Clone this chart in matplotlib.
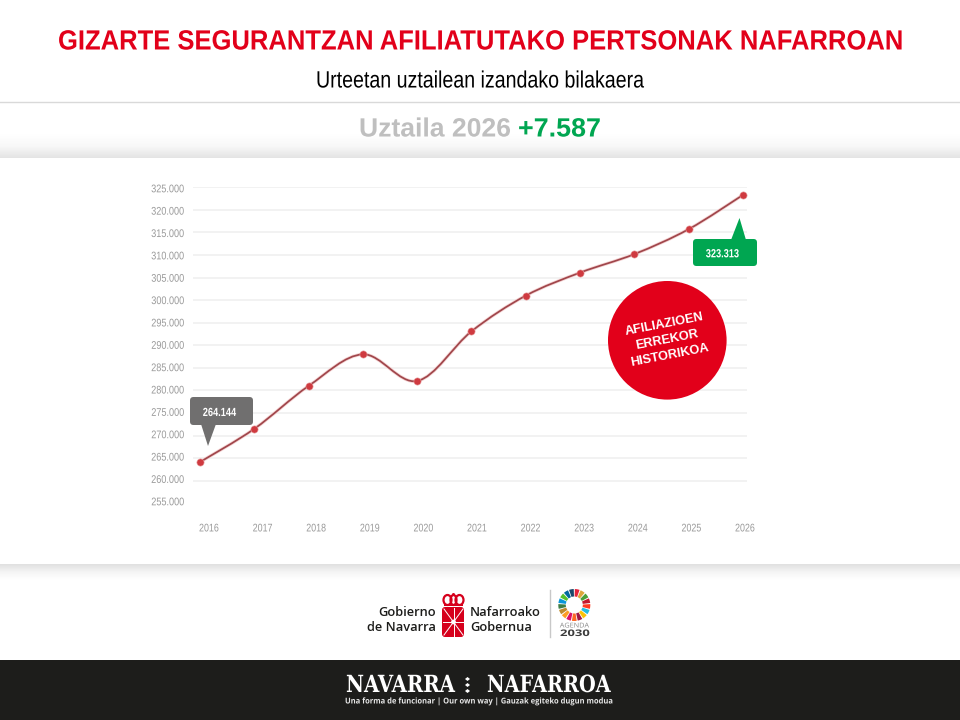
import numpy as np
import matplotlib
matplotlib.use("Agg")
import matplotlib.pyplot as plt
from matplotlib.patches import Circle, FancyBboxPatch, Polygon, PathPatch, Wedge, Ellipse, Rectangle
from matplotlib.path import Path
from matplotlib.patheffects import AbstractPathEffect
from matplotlib.text import Text
from matplotlib.transforms import ScaledTranslation, Affine2D, Bbox
from matplotlib.colors import LinearSegmentedColormap

years = [2016, 2017, 2018, 2019, 2020, 2021, 2022, 2023, 2024, 2025, 2026]
afiliados = [264144, 271500, 281000, 288000, 282100, 293100, 301000, 306100, 310200, 315726, 323313]
y_ticks = list(range(255000, 330000, 5000))
title = "GIZARTE SEGURANTZAN AFILIATUTAKO PERTSONAK NAFARROAN"
subtitle = "Urteetan uztailean izandako bilakaera"
period = "Uztaila 2026"
change = "+7.587"
badge_lines = "AFILIAZIOEN\nERREKOR\nHISTORIKOA"
sdg_colors = ["#e5243b", "#dda63a", "#4c9f38", "#c5192d", "#ff3a21", "#26bde2", "#fcc30b", "#a21942",
              "#fd6925", "#dd1367", "#fd9d24", "#bf8b2e", "#3f7e44", "#0a97d9", "#56c02b", "#00689d", "#19486a"]

W, H = 960, 720
RED = "#e2001a"
GREEN = "#00a651"
ARIAL = ["Liberation Sans"]


def thousands(v):
    return f"{v:,}".replace(",", ".")


class ScaleX(AbstractPathEffect):
    """Condense real text horizontally around a pixel anchor (no narrow font is installed)."""
    def __init__(self, sx, cx):
        super().__init__()
        self.sx, self.cx = sx, cx

    def draw_path(self, renderer, gc, tpath, affine, rgbFace=None):
        squeeze = Affine2D().translate(-self.cx, 0).scale(self.sx, 1).translate(self.cx, 0)
        renderer.draw_path(gc, tpath, affine + squeeze, rgbFace)


class NarrowText(Text):
    sx, cx = 1.0, 0.0

    def get_window_extent(self, renderer=None, dpi=None):
        b = super().get_window_extent(renderer, dpi)
        return Bbox.from_extents(self.cx + (b.x0 - self.cx) * self.sx, b.y0,
                                 self.cx + (b.x1 - self.cx) * self.sx, b.y1)


fig = plt.figure(figsize=(9.6, 7.2), dpi=100, facecolor="white")
renderer = fig.canvas.get_renderer()

# background layer in pixel coordinates
bg = fig.add_axes([0, 0, 1, 1], zorder=0)
bg.set_xlim(0, W); bg.set_ylim(H, 0); bg.axis("off")
shade_top = LinearSegmentedColormap.from_list("t", ["#ffffff", "#f8f8f8", "#e4e4e4"])
bg.imshow(np.linspace(0, 1, 64).reshape(-1, 1), extent=(0, W, 158, 134), cmap=shade_top, aspect="auto", zorder=1)
shade_bot = LinearSegmentedColormap.from_list("b", ["#e0e0e0", "#f5f5f5", "#ffffff"])
bg.imshow(np.linspace(0, 1, 64).reshape(-1, 1), extent=(0, W, 580, 564), cmap=shade_bot, aspect="auto", zorder=1)
bg.set_xlim(0, W); bg.set_ylim(H, 0)
bg.plot([0, W], [101.5, 101.5], color="#d9d9d9", lw=1, zorder=2)
bg.add_patch(Rectangle((0, 660), W, 60, fc="#1d1d1b", ec="none", zorder=2))


# chart
def px_to_fig(x0, y_top, x1, y_bot):
    return [x0 / W, 1 - y_bot / H, (x1 - x0) / W, (y_bot - y_top) / H]


ax = fig.add_axes(px_to_fig(193, 187.3, 747, 503.3), zorder=1)
ax.patch.set_alpha(0)
px_year = (743 - 200) / 10
ax.set_xlim(2016 - 7 / px_year, 2026 + 4 / px_year)
ax.set_ylim(255000, 325000)
for s in ax.spines.values():
    s.set_visible(False)
ax.set_yticks(y_ticks)
ax.set_yticklabels([thousands(v) for v in y_ticks], fontsize=8, color="#9a9a9a", family=ARIAL)
ax.set_xticks(years)
ax.set_xticklabels([str(y) for y in years], fontsize=8, color="#9a9a9a", family=ARIAL)
ax.tick_params(length=0, axis="y", pad=6.5)
ax.tick_params(length=0, axis="x", pad=14.5)
ax.grid(axis="y", color="#efefef", lw=1.1)
ax.yaxis.get_gridlines()[0].set_visible(False)
for i, lab in enumerate(ax.get_xticklabels()):
    dx = 9 - 0.7 * i
    lab.set_transform(lab.get_transform() + ScaledTranslation(dx / 100, 0, fig.dpi_scale_trans))
    lab.set_path_effects([ScaleX(0.8, 200 + i * px_year + dx)])
n_y = len(y_ticks) - 1
for i, lab in enumerate(ax.get_yticklabels()):
    lab.set_transform(lab.get_transform() + ScaledTranslation(0, (2 - 3 * i / n_y) / 100, fig.dpi_scale_trans))
    lab.set_path_effects([ScaleX(0.82, 184)])

# smooth curve through the values
xs, ys = np.array(years, float), np.array(afiliados, float)
verts, codes = [(xs[0], ys[0])], [Path.MOVETO]
for i in range(len(xs) - 1):
    p0 = i - 1 if i > 0 else i
    p3 = i + 2 if i + 2 < len(xs) else i + 1
    c1 = (xs[i] + (xs[i + 1] - xs[p0]) / 6, ys[i] + (ys[i + 1] - ys[p0]) / 6)
    c2 = (xs[i + 1] - (xs[p3] - xs[i]) / 6, ys[i + 1] - (ys[p3] - ys[i]) / 6)
    verts += [c1, c2, (xs[i + 1], ys[i + 1])]
    codes += [Path.CURVE4] * 3
curve = Path(verts, codes)
ax.add_patch(PathPatch(curve, fc="none", ec="#f6d5d5", lw=2.4, zorder=3, clip_on=False))
ax.add_patch(PathPatch(curve, fc="none", ec="#a0464b", lw=1.25, zorder=4, clip_on=False))
ax.plot(years, afiliados, ls="none", marker="o", ms=5.2, mfc="#cf3a40", mec="#e8a0a0", mew=0.4, zorder=5, clip_on=False)

# overlay layer in pixel coordinates
top = fig.add_axes([0, 0, 1, 1], zorder=2)
top.set_xlim(0, W); top.set_ylim(H, 0); top.axis("off"); top.patch.set_alpha(0)


def stext(x, y, s, width, **kw):
    """Real text anchored at pixel x, condensed to the given pixel width."""
    t = NarrowText(x, y, s, va="center", **kw)
    top.add_artist(t)
    t.set_clip_on(False)
    w = Text.get_window_extent(t, renderer).width
    t.sx, t.cx = width / w, x
    t.set_path_effects([ScaleX(t.sx, x)])
    return t


stext(480, 42.5, title, 844, ha="center", color=RED, fontsize=20, fontweight="bold", family=ARIAL)
stext(480.5, 81.5, subtitle, 329, ha="center", color="black", fontsize=17, family=ARIAL)
stext(359, 129.5, period, 152, ha="left", color="#bfbfbf", fontsize=19, fontweight="bold", family=ARIAL)
stext(518, 129.5, change, 83, ha="left", color=GREEN, fontsize=19, fontweight="bold", family=ARIAL)


def callout(x0, y0, x1, y1, tail, color, label, tx, ty):
    top.add_patch(FancyBboxPatch((x0 + 3, y0 + 3), x1 - x0 - 6, y1 - y0 - 6, boxstyle="round,pad=3,rounding_size=3.5",
                                 fc=color, ec="none", zorder=5))
    top.add_patch(Polygon(tail, closed=True, fc=color, ec="none", zorder=5))
    stext(tx, ty, label, 33, ha="center", color="white", fontsize=8.5, fontweight="bold", family=ARIAL, zorder=6)


callout(190, 397, 253, 425, [(201, 424), (216, 424), (208, 446)], "#706f6f", thousands(afiliados[0]), 219.3, 413)
callout(693, 239, 757, 266, [(731, 240), (746, 240), (739.5, 218)], GREEN, thousands(afiliados[-1]), 722.3, 254.3)

top.add_patch(Circle((667.3, 340.3), 59.3, fc=RED, ec="none", zorder=5))
top.text(667, 340, badge_lines, ha="center", va="center", ma="center", color="white", fontsize=9.2,
         fontweight="bold", family=ARIAL, rotation=11, rotation_mode="anchor", linespacing=1.4, zorder=6)

# institutional logo
logo_kw = dict(va="center", color="#1d1d1b", fontsize=9.3, fontweight="semibold", family="Open Sans")
top.text(436, 612.5, "Gobierno", ha="right", **logo_kw)
top.text(436, 627.5, "de Navarra", ha="right", **logo_kw)
top.text(470, 612.5, "Nafarroako", ha="left", **logo_kw)
top.text(470, 627.5, "Gobernua", ha="left", **logo_kw)
top.add_patch(FancyBboxPatch((443.5, 608.5), 19, 27, boxstyle="round,pad=1.5,rounding_size=3", fc="#d6001c", ec="none"))
top.plot([444, 463], [609, 635], color="white", lw=0.7)
top.plot([463, 444], [609, 635], color="white", lw=0.7)
top.plot([453.5, 453.5], [608, 636], color="white", lw=0.7)
top.plot([443, 464], [622, 622], color="white", lw=0.7)
top.add_patch(Circle((453.5, 622), 2.4, fc="white", ec="none"))
top.add_patch(Ellipse((447.5, 600), 8, 10, fc="none", ec="#d6001c", lw=1.6))
top.add_patch(Ellipse((459.5, 600), 8, 10, fc="none", ec="#d6001c", lw=1.6))
top.add_patch(Ellipse((453.5, 600), 6, 10, fc="none", ec="#d6001c", lw=1.6))
top.add_patch(Rectangle((444, 604), 19, 2.4, fc="#d6001c", ec="none"))
top.add_patch(Circle((453.5, 594.5), 1.5, fc="#d6001c", ec="none"))

top.plot([549.5, 549.5], [590, 637], color="#c8c8c8", lw=1)

# Agenda 2030 ring
n = len(sdg_colors)
for i, c in enumerate(sdg_colors):
    a0 = -90 + i * 360 / n
    top.add_patch(Wedge((574.3, 605), 16, a0 + 2, a0 + 360 / n - 2, width=7.5, fc=c, ec="none"))
stext(574.3, 626, "AGENDA", 29, ha="center", color="#8a8a8a", fontsize=4.8, family="Open Sans")
stext(575, 633.5, "2030", 30, ha="center", color="#3c3c3c", fontsize=6.5, fontweight="bold", family="Open Sans")

# footer
stext(400.5, 685, "NAVARRA", 109, ha="center", color="white", fontsize=17, fontweight="bold", family="DejaVu Serif")
stext(549, 685, "NAFARROA", 124, ha="center", color="white", fontsize=17, fontweight="bold", family="DejaVu Serif")
for yy in (679, 685, 691):
    top.add_patch(Polygon([(467.5, yy - 2), (470, yy), (467.5, yy + 2), (465, yy)], fc="white", ec="none"))
stext(479, 701, "Una forma de funcionar | Our own way | Gauzak egiteko dugun modua", 268, ha="center",
      color="#e6e6e6", fontsize=5.8, fontweight="bold", family="Open Sans")

fig.savefig("out.png", dpi=100)
